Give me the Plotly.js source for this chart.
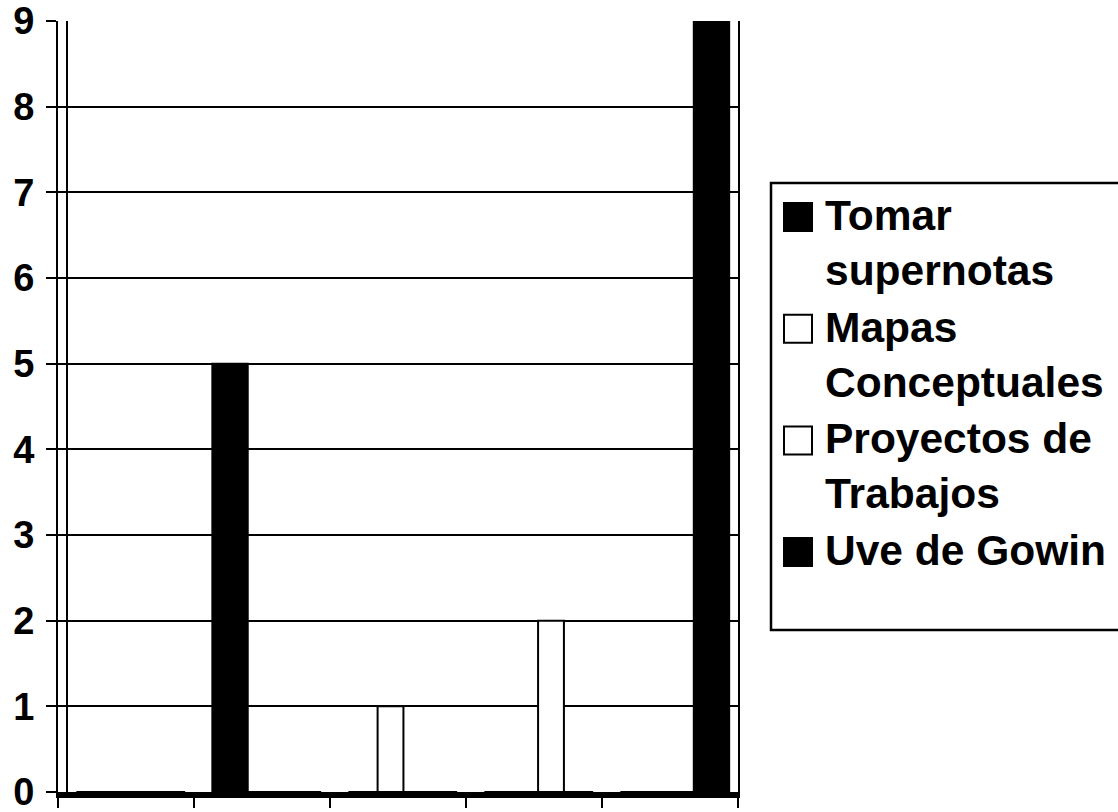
<!DOCTYPE html>
<html>
<head>
<meta charset="utf-8">
<script src="https://cdn.plot.ly/plotly-3.0.1.min.js"></script>
<style>html,body{margin:0;padding:0;background:#fff;}#chart{width:1118px;height:812px;}</style>
</head>
<body>
<div id="chart"></div>
<script>
const categories = ["1", "2", "3", "4", "5"];
const seriesNames = ["Tomar<br>supernotas", "Mapas<br>Conceptuales", "Proyectos de<br>Trabajos", "Uve de Gowin"];
const tomarSupernotas = [0, 5, 0, 0, 0];
const mapasConceptuales = [0, 0, 1, 0, 0];
const proyectosTrabajos = [0, 0, 0, 2, 0];
const uveDeGowin = [0, 0, 0, 0, 9];
const yTicks = [0, 1, 2, 3, 4, 5, 6, 7, 8, 9];

const seriesValues = [tomarSupernotas, mapasConceptuales, proyectosTrabajos, uveDeGowin];
const fills = ["#000000", "#ffffff", "#ffffff", "#000000"];
const barWidths = [0.26, 0.19, 0.19, 0.26];
const slotStep = 0.18, nudge = 0.035;

const traces = seriesValues.map((vals, i) => ({
  type: "bar",
  x: categories,
  y: vals,
  name: seriesNames[i].replace("<br>", " "),
  width: barWidths[i],
  offset: (i - 1.5) * slotStep - barWidths[i] / 2 + nudge,
  showlegend: false,
  marker: {color: fills[i], line: {color: "#000", width: 2}},
  hoverinfo: "y"
}));

// plot area in pixels (for the hand-built legend, which is layout, not data)
const M = {l: 58, r: 380, t: 21, b: 20};
const W = 1118, H = 812;
const PW = W - M.l - M.r, PH = H - M.t - M.b;
const px = v => (v - M.l) / PW;
const py = v => (H - M.b - v) / PH;

const shapes = [];
const annotations = [];
// inner wall edge of the 3D frame
shapes.push({type: "line", xref: "paper", yref: "paper",
  x0: px(67), x1: px(67), y0: 0, y1: 1, line: {color: "#000", width: 2}});
// legend frame
shapes.push({type: "rect", xref: "paper", yref: "paper",
  x0: px(771), x1: px(1135), y0: py(630), y1: py(183),
  line: {color: "#000", width: 2.5}, fillcolor: "rgba(0,0,0,0)"});
const firstCapTop = 202, itemStep = 111.7;
seriesNames.forEach((nm, i) => {
  const top = firstCapTop + i * itemStep;
  shapes.push({type: "rect", xref: "paper", yref: "paper",
    x0: px(784), x1: px(812), y0: py(top + 29), y1: py(top + 1),
    line: {color: "#000", width: 2}, fillcolor: fills[i]});
  annotations.push({xref: "paper", yref: "paper", x: px(823), y: py(top - 12),
    xanchor: "left", yanchor: "top", align: "left", showarrow: false,
    text: nm, font: {size: 42.5, weight: "bold", color: "#000", family: "Liberation Sans, Arial, sans-serif"}});
});

const layout = {
  width: W,
  height: H,
  margin: M,
  paper_bgcolor: "#fff",
  plot_bgcolor: "#fff",
  font: {family: "Liberation Sans, Arial, sans-serif", color: "#000"},
  barmode: "group",
  bargap: 0.28,
  bargroupgap: 0,
  showlegend: false,
  shapes: shapes,
  annotations: annotations,
  xaxis: {
    type: "category",
    categoryorder: "array",
    categoryarray: categories,
    range: [-0.5, 4.5],
    showticklabels: false,
    ticks: "outside",
    tickson: "boundaries",
    ticklen: 10,
    tickwidth: 2,
    tickcolor: "#000",
    showgrid: false,
    showline: true,
    linecolor: "#000",
    linewidth: 6,
    zeroline: false
  },
  yaxis: {
    range: [0, 9],
    tickvals: yTicks,
    ticktext: yTicks.map(String),
    ticks: "outside",
    ticklen: 10,
    tickwidth: 2,
    tickcolor: "#000",
    ticklabeloverflow: "allow",
    ticklabelstandoff: 4,
    tickfont: {size: 38, weight: "bold", family: "Liberation Sans, Arial, sans-serif"},
    showgrid: true,
    gridcolor: "#000",
    gridwidth: 2,
    showline: true,
    mirror: true,
    linecolor: "#000",
    linewidth: 2,
    zeroline: false
  }
};

Plotly.newPlot("chart", traces, layout, {displayModeBar: false, staticPlot: true});
</script>
</body>
</html>
